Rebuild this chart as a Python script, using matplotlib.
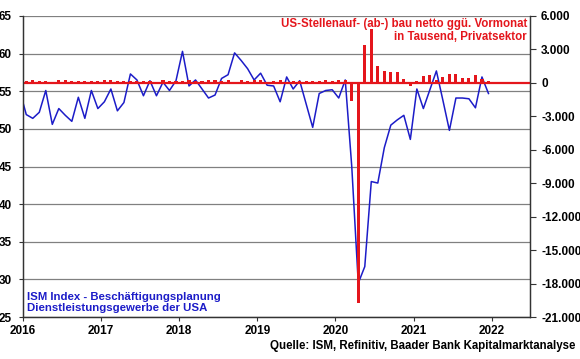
import numpy as np
import matplotlib
matplotlib.use("Agg")
import matplotlib.pyplot as plt
from matplotlib.ticker import FuncFormatter

plt.rcParams['font.family'] = ['Liberation Sans', 'DejaVu Sans']
plt.rcParams['font.weight'] = 'bold'

# ISM services employment index, monthly, Dec 2015 .. Dec 2021
ism = [55.1,
       51.9, 51.4, 52.2, 55.1, 50.6, 52.7, 51.8, 51.0, 54.2, 51.4, 55.1, 52.7,
       53.6, 55.3, 52.4, 53.5, 57.3, 56.5, 54.4, 56.4, 54.4, 56.2, 55.1, 56.4,
       60.3, 55.7, 56.5, 55.3, 54.1, 54.5, 56.7, 57.2, 60.1, 59.1, 58.0, 56.5,
       57.4, 55.8, 55.7, 53.6, 56.9, 55.3, 56.4, 53.3, 50.2, 54.7, 55.1, 55.2,
       54.1, 56.5, 45.0, 29.5, 31.7, 43.0, 42.8, 47.5, 50.5, 51.2, 51.8, 48.6,
       55.3, 52.7, 55.2, 57.7, 53.8, 49.8, 54.1, 54.1, 54.0, 52.8, 56.9, 54.7]

# private payrolls, change vs. previous month (thousands), Jan 2016 .. Dec 2021
jobs = [160, 230, 200, 170, 30, 280, 240, 170, 200, 130, 180, 180,
        230, 220, 140, 190, 160, 200, 200, 180, 60, 240, 200, 190,
        170, 300, 170, 210, 250, 230, 190, 240, 120, 250, 210, 220,
        260, 60, 180, 220, 120, 170, 150, 160, 140, 180, 230, 160,
        260, 270, -1600, -19700, 3400, 4800, 1500, 1050, 980, 980, 350, -250,
        150, 620, 710, 260, 500, 800, 800, 470, 470, 710, 320, 200]

years = [2016, 2017, 2018, 2019, 2020, 2021, 2022]

x_ism = 2016 + (np.arange(len(ism)) - 0.5) / 12
x_jobs = 2016 + (np.arange(len(jobs)) + 0.5) / 12

blue = '#1c1cc8'
red = '#e4161c'

fig = plt.figure(figsize=(5.8, 3.59), dpi=100)
ax = fig.add_axes([23/580, 1-317/359, (530-23)/580, (317-16)/359])
ax2 = ax.twinx()

ax.plot(x_ism, ism, color=blue, linewidth=1.1, zorder=3)
ax.set_xlim(2016, 2022.49)
ax.set_ylim(25, 65)
ax.set_yticks(range(25, 66, 5))
ax.set_xticks(years)
ax.grid(axis='y', color='#808080', linewidth=0.9)
ax.set_axisbelow(True)

ax2.bar(x_jobs, jobs, width=0.04, color=red, zorder=3)
ax2.axhline(0, color=red, linewidth=1.6, zorder=2)
ax2.set_ylim(-21000, 6000)
ax2.set_yticks(range(-21000, 6001, 3000))
ax2.yaxis.set_major_formatter(FuncFormatter(lambda v, p: "{:,.0f}".format(v).replace(",", ".")))

for a in (ax, ax2):
    a.spines['top'].set_visible(False)
    for s in ('left', 'right', 'bottom'):
        a.spines[s].set_color('#333333')
        a.spines[s].set_linewidth(0.9)
    a.tick_params(labelsize=8.5, length=3, width=0.8, color='#333333')
ax.tick_params(axis='y', pad=5)
ax.tick_params(axis='x', pad=3)
ax2.tick_params(axis='y', pad=4, length=4)
for lab in ax.get_xticklabels() + ax.get_yticklabels() + ax2.get_yticklabels():
    lab.set_fontweight('bold')

fig.text(527/580, 1-18/359, "US-Stellenauf- (ab-) bau netto ggü. Vormonat\nin Tausend, Privatsektor",
         color=red, fontsize=8.3, fontweight='bold', ha='right', va='top',
         multialignment='right', linespacing=1.1)
fig.text(27/580, 1-313/359, "ISM Index - Beschäftigungsplanung\nDienstleistungsgewerbe der USA",
         color=blue, fontsize=8.2, fontweight='bold', ha='left', va='bottom', linespacing=1.1)
fig.text(575/580, 1-346/359, "Quelle: ISM, Refinitiv, Baader Bank Kapitalmarktanalyse",
         color='black', fontsize=8.3, fontweight='bold', ha='right', va='center')

fig.savefig("out.png", dpi=100)
